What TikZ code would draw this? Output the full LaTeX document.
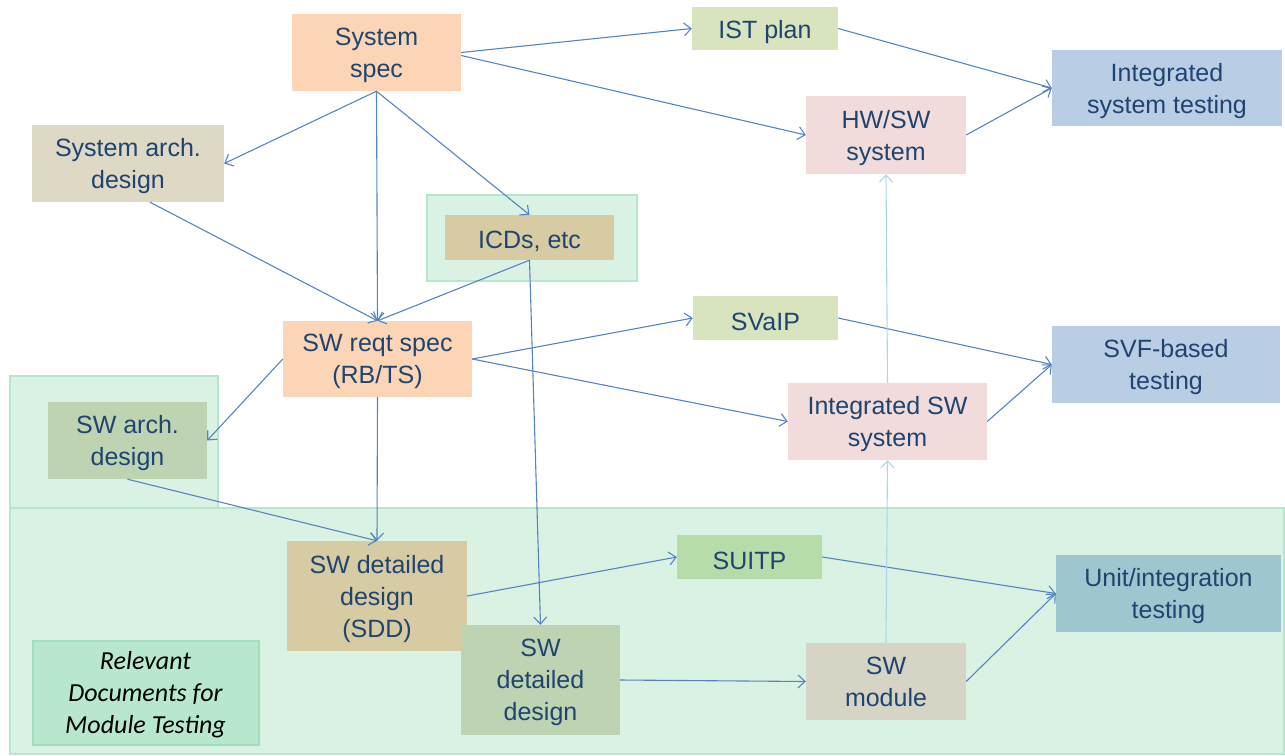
\documentclass[tikz,border=0pt]{standalone}
\usepackage{fontspec}
\setmainfont{Liberation Sans}
\newfontfamily\legendfont{Carlito}
\usetikzlibrary{arrows.meta}
\definecolor{txt}{HTML}{1F4470}
\definecolor{arr}{HTML}{5585C0}
\definecolor{cyanarr}{HTML}{A8D8E8}
\definecolor{orng}{HTML}{FBD5B5}
\definecolor{lgreen}{HTML}{D7E4BD}
\definecolor{lblue}{HTML}{B9CDE5}
\definecolor{pink}{HTML}{F2DCDB}
\definecolor{beige}{HTML}{DDD9C4}
\definecolor{tan}{HTML}{D6CBA2}
\definecolor{sage}{HTML}{BDD3B1}
\definecolor{suitpc}{HTML}{B6DDA9}
\definecolor{teal}{HTML}{9EC6CF}
\definecolor{grayc}{HTML}{D6D4C5}
\definecolor{regfill}{HTML}{D9F2E4}
\definecolor{regline}{HTML}{B6E7CD}
\definecolor{legfill}{HTML}{B7E8CE}
\definecolor{legline}{HTML}{A2DDBD}
\tikzset{
  box/.style={rectangle, inner sep=0pt, text=txt, align=center, font=\fontsize{25}{32}\selectfont},
  onel/.style={box, text height=26pt},
  twol/.style={box, text depth=-3pt},
  region/.style={fill=regfill, draw=regline, line width=2.5pt},
  conn/.style={draw=arr, line width=1.1pt, -{Straight Barb[length=7pt,width=13pt]}},
  upconn/.style={draw=cyanarr, line width=1.1pt, -{Straight Barb[length=7pt,width=13pt]}}
}
\begin{document}
\begin{tikzpicture}[x=1pt,y=-1pt]
\useasboundingbox (0,0) rectangle (1285,755);
% regions
\draw[region] (10,508) rectangle (1284,754);
\draw[region] (10,376) rectangle (218,508);
\draw[region] (427,195) rectangle (637,281);
% nodes
\node[twol, fill=orng, minimum width=169pt, minimum height=77pt] (sysspec) at (376.5,52.5) {System\\spec};
\node[onel, fill=lgreen, minimum width=146pt, minimum height=43pt] (istplan) at (765,28.5) {IST plan};
\node[twol, fill=lblue, minimum width=230pt, minimum height=76pt] (ist) at (1167,88) {Integrated\\system testing};
\node[twol, fill=pink, minimum width=160pt, minimum height=78pt] (hwsw) at (886,135) {HW/SW\\system};
\node[twol, fill=beige, minimum width=192pt, minimum height=77pt] (sysarch) at (128,163.5) {System arch.\\design};
\node[onel, fill=tan, minimum width=169pt, minimum height=45pt] (icds) at (529.5,237.5) {ICDs, etc};
\node[twol, fill=orng, minimum width=189pt, minimum height=76pt] (swreq) at (377.5,359) {SW reqt spec\\(RB/TS)};
\node[onel, fill=lgreen, minimum width=145pt, minimum height=44pt] (svalp) at (765.5,318) {SVaIP};
\node[twol, fill=lblue, minimum width=228pt, minimum height=77pt] (svf) at (1166,364.5) {SVF-based\\testing};
\node[twol, fill=pink, minimum width=199pt, minimum height=77pt] (intsw) at (887.5,421.5) {Integrated SW\\system};
\node[twol, fill=sage, minimum width=159pt, minimum height=77pt] (swarch) at (127.5,440.5) {SW arch.\\design};
\node[twol, fill=tan, minimum width=180pt, minimum height=110pt] (sdd) at (377,596) {SW detailed\\design\\(SDD)};
\node[onel, fill=suitpc, minimum width=145pt, minimum height=44pt] (suitp) at (749.5,557) {SUITP};
\node[twol, fill=teal, minimum width=225pt, minimum height=77pt] (unit) at (1168.5,593.5) {Unit/integration\\testing};
\node[twol, fill=sage, minimum width=159pt, minimum height=110pt] (swdd) at (540.5,680) {SW\\detailed\\design};
\node[box, fill=grayc, minimum width=160pt, minimum height=77pt] (swmod) at (886,681.5) {SW\\module};
\node[rectangle, fill=legfill, draw=legline, line width=2pt, minimum width=226pt, minimum height=104pt, inner sep=0pt, align=center, text=black, text depth=-1pt, font=\legendfont\itshape\fontsize{26}{32}\selectfont] (legend) at (145.5,692.5) {Relevant\\Documents for\\Module Testing};
% connectors
\draw[conn] (sysspec.east) -- (istplan.west);
\draw[conn] ([yshift=-3pt]sysspec.east) -- (hwsw.west);
\draw[conn] (istplan.east) -- (ist.west);
\draw[conn] (hwsw.east) -- (ist.west);
\draw[conn] (sysspec.south) -- (sysarch.east);
\draw[conn] (sysspec.south) -- (swreq.north);
\draw[conn] (sysspec.south) -- (icds.north);
\draw[conn] ([xshift=22pt]sysarch.south) -- (swreq.north);
\draw[conn] (icds.south) -- (swreq.north);
\draw[conn] (icds.south) -- (swdd.north);
\draw[conn] (swreq.east) -- (svalp.west);
\draw[conn] (swreq.east) -- (intsw.west);
\draw[conn] (svalp.east) -- (svf.west);
\draw[conn] (intsw.east) -- (svf.west);
\draw[conn] (swreq.west) -- (swarch.east);
\draw[conn] (swreq.south) -- (sdd.north);
\draw[conn] (swarch.south) -- (sdd.north);
\draw[conn] (sdd.east) -- (suitp.west);
\draw[conn] (suitp.east) -- (unit.west);
\draw[conn] (swmod.east) -- (unit.west);
\draw[conn] (swdd.east) -- (swmod.west);
\draw[upconn] (swmod.north) -- (intsw.south);
\draw[upconn] (intsw.north) -- (hwsw.south);
\end{tikzpicture}
\end{document}
